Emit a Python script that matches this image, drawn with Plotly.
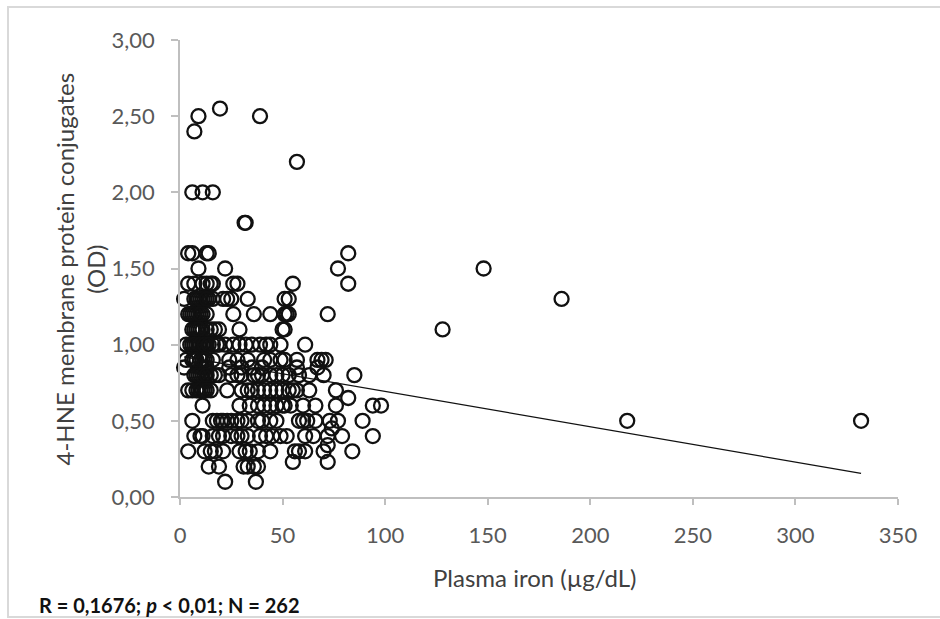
import plotly.graph_objects as go

# ---- data ----
iron_ugdl = [
    19.5, 9, 39, 7, 57,
    6, 11, 16, 32, 31.5,
    4, 6, 14, 13, 82,
    9, 22, 77, 148,
    4, 7, 11, 13, 15, 16, 26, 28, 55, 82,
    2, 7, 9, 11, 12, 14, 16, 21, 23, 25, 33, 51, 53, 186, 8, 10, 13,
    4, 6, 8, 11, 13, 26, 36, 44, 51, 52, 53, 72, 5, 7, 9, 10,
    6, 10, 11, 13, 15, 17, 19, 29, 50, 51, 128, 7, 8, 9,
    3, 5, 6, 8, 11, 13, 16, 18, 19, 22, 26, 29, 32, 35, 39, 42, 44, 49, 61, 7, 9, 10, 12, 14,
    3, 6, 10, 13, 16, 24, 28, 33, 41, 44, 49, 51, 57, 67, 69, 71, 7, 8, 11, 12,
    2, 57, 67, 10, 13, 24, 30, 35, 40,
    7, 10, 12, 15, 17, 19, 25, 28, 30, 36, 38, 40, 44, 47, 50, 53, 58, 63, 70, 85, 8, 9, 11, 13,
    4, 6, 8, 11, 15, 23, 30, 33, 35, 38, 41, 44, 47, 50, 53, 55, 57, 63, 76, 9, 10, 12, 13,
    82,
    11, 29, 34, 38, 41, 44, 47, 50, 51, 54, 60, 66, 76, 94, 98,
    6, 16, 18, 20, 23, 25, 28, 30, 33, 38, 40, 44, 47, 58, 60, 62, 66, 73, 77, 89, 218, 332, 21,
    74,
    7, 10, 11, 16, 19, 21, 25, 28, 30, 33, 39, 42, 45, 49, 52, 61, 65, 72, 79, 94,
    72,
    4, 12, 15, 17, 21, 29, 32, 34, 38, 44, 56, 58, 61, 70, 84,
    55, 72,
    14, 19, 31, 33, 36, 38,
    22, 37,
]
hne_od = (
    [2.55, 2.5, 2.5, 2.4, 2.2]
    + [2.0] * 3 + [1.8] * 2
    + [1.6] * 5
    + [1.5] * 4
    + [1.4] * 10
    + [1.3] * 17
    + [1.2] * 16
    + [1.1] * 14
    + [1.0] * 24
    + [0.9] * 20
    + [0.85] * 9
    + [0.8] * 24
    + [0.7] * 23
    + [0.65]
    + [0.6] * 15
    + [0.5] * 23
    + [0.45]
    + [0.4] * 20
    + [0.34]
    + [0.3] * 15
    + [0.23] * 2
    + [0.2] * 6
    + [0.1] * 2
)

trend_x = [2, 332]
trend_y = [0.92, 0.155]

x_ticks = [0, 50, 100, 150, 200, 250, 300, 350]
y_ticks = [0, 0.5, 1.0, 1.5, 2.0, 2.5, 3.0]
y_tick_text = ["0,00", "0,50", "1,00", "1,50", "2,00", "2,50", "3,00"]

# ---- figure ----
W, H = 940, 619
L, R, T, B = 180, 42, 40, 122
pw, ph = W - L - R, H - T - B


def px_x(p):
    return (p - L) / pw


def px_y(p):
    return (H - B - p) / ph


fig = go.Figure()
fig.add_trace(go.Scatter(
    x=iron_ugdl, y=hne_od, mode="markers", cliponaxis=False,
    marker=dict(symbol="circle-open", size=14, color="#111111",
                line=dict(width=2.3, color="#111111")),
    showlegend=False, hoverinfo="x+y",
))
fig.add_trace(go.Scatter(
    x=trend_x, y=trend_y, mode="lines",
    line=dict(color="#111111", width=1.3),
    showlegend=False,
))

axis_col = "#BFBFBF"
tick_font = dict(family="Lato", size=22, color="#595959")

fig.update_layout(
    width=W, height=H,
    margin=dict(l=L, r=R, t=T, b=B),
    paper_bgcolor="white", plot_bgcolor="white",
    xaxis=dict(range=[0, 350], tickvals=x_ticks, showgrid=False, zeroline=False,
               showline=True, linecolor=axis_col, linewidth=1.5,
               ticks="outside", ticklen=6, tickcolor=axis_col, tickwidth=1.5,
               tickfont=tick_font, ticklabelstandoff=12),
    yaxis=dict(range=[0, 3], tickvals=y_ticks, ticktext=y_tick_text,
               showgrid=False, zeroline=False,
               showline=True, linecolor=axis_col, linewidth=1.5,
               ticks="outside", ticklen=7, tickcolor=axis_col, tickwidth=1.5,
               tickfont=tick_font, ticklabelstandoff=12),
    font=dict(family="Lato"),
)

fig.add_annotation(
    text="4-HNE membrane protein conjugates<br>(OD)",
    xref="paper", yref="paper", x=px_x(79), y=0.5,
    textangle=-90, showarrow=False, xanchor="center", yanchor="middle",
    font=dict(family="Lato", size=24, color="#404040"),
)
fig.add_annotation(
    text="Plasma iron (µg/dL)",
    xref="paper", yref="paper", x=px_x(535), y=px_y(577),
    showarrow=False, xanchor="center", yanchor="middle",
    font=dict(family="Lato", size=24, color="#404040"),
)
fig.add_annotation(
    text="<b>R = 0,1676; <i>p</i> &lt; 0,01; N = 262</b>",
    xref="paper", yref="paper", x=px_x(37), y=px_y(605),
    showarrow=False, xanchor="left", yanchor="middle",
    font=dict(family="Lato", size=20, color="#111111"),
)
fig.add_shape(
    type="rect", xref="paper", yref="paper",
    x0=px_x(8), x1=px_x(948), y0=px_y(617), y1=px_y(7),
    line=dict(color="#D9D9D9", width=2), layer="below",
)

fig.write_html("out.html")
